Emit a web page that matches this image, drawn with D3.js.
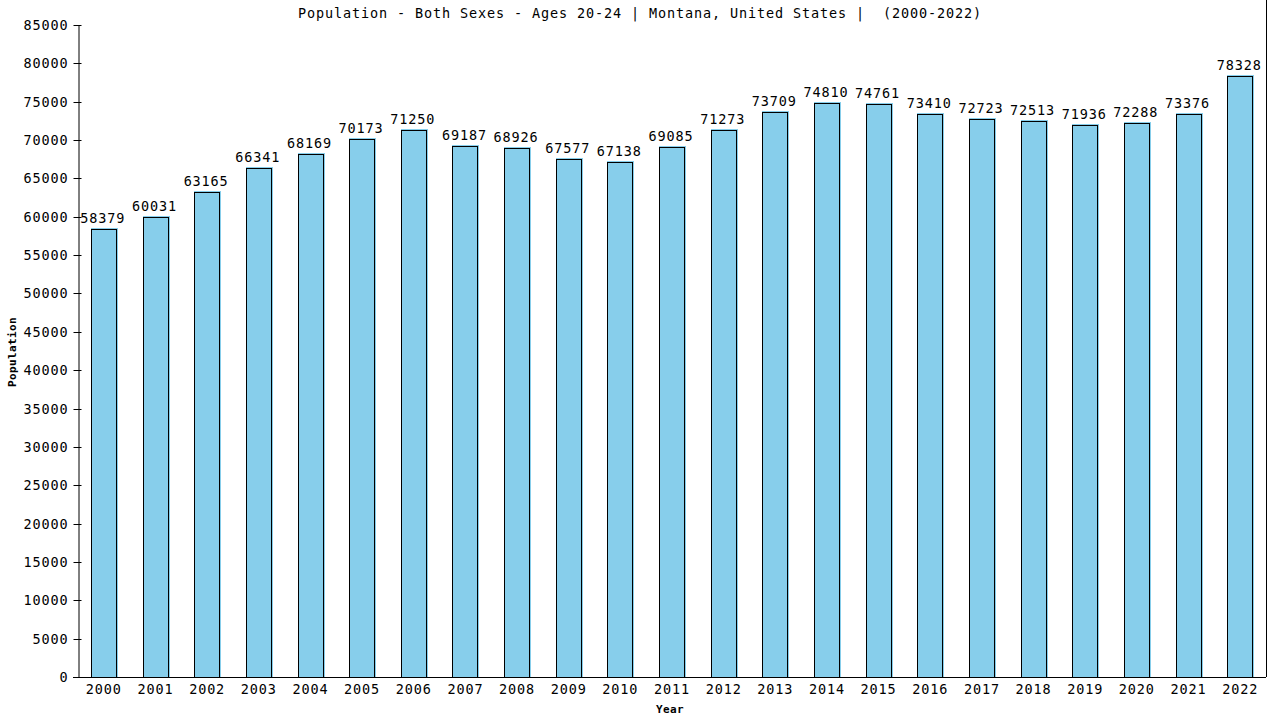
<!DOCTYPE html>
<html><head><meta charset="utf-8">
<script src="https://cdn.jsdelivr.net/npm/d3@7"></script>
<style>
html,body{margin:0;padding:0;background:#fff;}
text{font-family:"DejaVu Sans Mono",monospace;fill:#000;white-space:pre;}
</style></head>
<body>
<svg id="c" width="1280" height="720"></svg>
<script>
const years = ["2000","2001","2002","2003","2004","2005","2006","2007","2008","2009","2010","2011","2012","2013","2014","2015","2016","2017","2018","2019","2020","2021","2022"];
const population = [58379,60031,63165,66341,68169,70173,71250,69187,68926,67577,67138,69085,71273,73709,74810,74761,73410,72723,72513,71936,72288,73376,78328];
const yTicks = d3.range(0, 85001, 5000);
const title = "Population - Both Sexes - Ages 20-24 | Montana, United States |  (2000-2022)";

(function () {
const svg = d3.select("#c");
const pL = 78, pR = 1266, pT = 25, pB = 677;
const x = d3.scaleBand().domain(years).range([pL, pR]).paddingInner(0.5).paddingOuter(0.25);
const y = d3.scaleLinear().domain([0, 85000]).range([pB, pT]);

const fs = "13.5px", ls = "0.87px";

svg.append("text").attr("x", 640).attr("y", 18).attr("text-anchor", "middle")
  .style("font-size", fs).style("letter-spacing", ls).text(title);

const g = svg.append("g");
years.forEach((yr, i) => {
  const v = population[i];
  const bx = Math.round(x(yr)), bw = Math.round(x.bandwidth());
  const by = Math.round(y(v));
  g.append("rect").attr("x", bx).attr("y", by - 1).attr("width", bw + 1).attr("height", pB - by + 1)
    .attr("fill", "#87CEEB");
  g.append("rect").attr("x", bx + 0.5).attr("y", by + 0.5).attr("width", bw - 1).attr("height", pB - by)
    .attr("fill", "none").attr("stroke", "#000").attr("stroke-width", 1);
  svg.append("text").attr("x", x(yr) + x.bandwidth() / 2 - 1).attr("y", by - 6)
    .attr("text-anchor", "middle").style("font-size", fs).style("letter-spacing", ls).text(v);
});

const yAxis = d3.axisLeft(y).tickValues(yTicks).tickSizeOuter(0).tickSizeInner(5).tickPadding(5).tickFormat(d3.format("d"));
const ya = svg.append("g").attr("transform", `translate(${pL + 0.5},0)`).call(yAxis);
ya.select(".domain").attr("stroke", "#000");
ya.selectAll(".tick line").attr("x2", -5).attr("x1", 3).attr("stroke", "#000");
ya.selectAll(".tick text").style("font-size", fs).style("letter-spacing", ls).attr("dy", "0.35em");
ya.selectAll(".tick").attr("transform", d => `translate(0,${Math.round(y(d)) + 0.5})`);

const xAxis = d3.axisBottom(x).tickSize(0).tickPadding(7);
const xa = svg.append("g").attr("transform", `translate(0,${pB + 0.5})`).call(xAxis);
xa.select(".domain").remove();
xa.selectAll(".tick text").style("font-size", fs).style("letter-spacing", ls).attr("dy", "0.71em");
svg.append("line").attr("x1", pL - 5).attr("x2", pR).attr("y1", pB + 0.5).attr("y2", pB + 0.5).attr("stroke", "#000");

svg.append("line").attr("x1", pR + 0.5).attr("x2", pR + 0.5).attr("y1", 0).attr("y2", pB).attr("stroke", "#000");

svg.append("text").attr("x", 670).attr("y", 713).attr("text-anchor", "middle")
  .style("font-size", "11px").style("font-weight", "bold").style("letter-spacing", "0.4px").text("Year");
svg.append("text").attr("transform", "translate(16,352) rotate(-90)").attr("text-anchor", "middle")
  .style("font-size", "11px").style("font-weight", "bold").style("letter-spacing", "0.4px").text("Population");
})();
</script>
</body></html>
